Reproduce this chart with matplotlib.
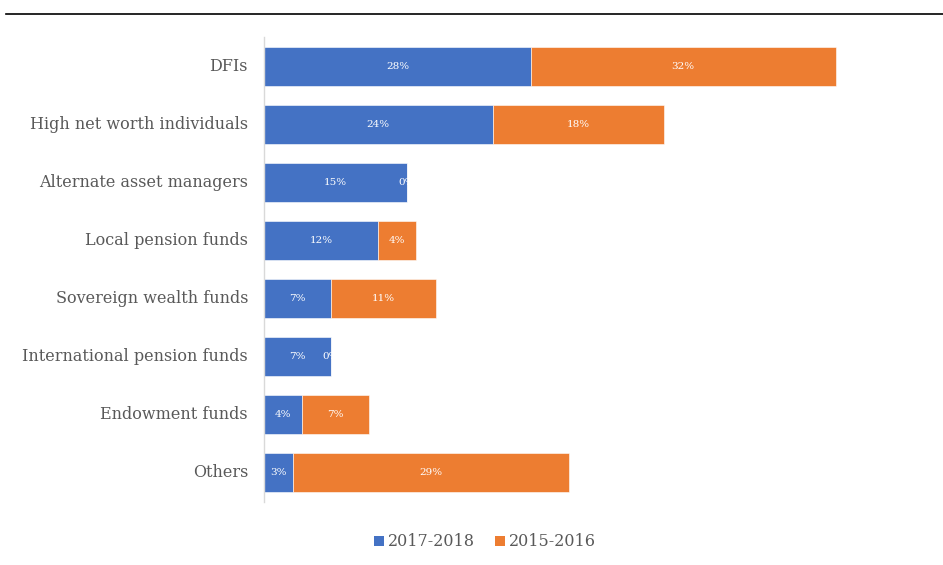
import matplotlib
matplotlib.use("Agg")
import matplotlib.pyplot as plt
from matplotlib.lines import Line2D
from matplotlib.patches import Patch

categories = [
    "DFIs",
    "High net worth individuals",
    "Alternate asset managers",
    "Local pension funds",
    "Sovereign wealth funds",
    "International pension funds",
    "Endowment funds",
    "Others",
]
values_2017_2018 = [28, 24, 15, 12, 7, 7, 4, 3]
values_2015_2016 = [32, 18, 0, 4, 11, 0, 7, 29]
series_names = ["2017-2018", "2015-2016"]

BLUE = "#4472C4"
ORANGE = "#ED7D31"
GREY_TEXT = "#595959"
FONT = ["DejaVu Serif"]

W, H = 943, 565
fig = plt.figure(figsize=(W / 100, H / 100), dpi=100)
fig.patch.set_facecolor("white")

# plot area in pixel units
left_px, right_px, top_px, bottom_px = 264, 931, 37, 502
ax = fig.add_axes([left_px / W, 1 - bottom_px / H,
                   (right_px - left_px) / W, (bottom_px - top_px) / H])

y = list(range(len(categories)))
b1 = ax.barh(y, values_2017_2018, height=0.67, color=BLUE,
             edgecolor="white", linewidth=0.4)
b2 = ax.barh(y, values_2015_2016, left=values_2017_2018, height=0.67,
             color=ORANGE, edgecolor="white", linewidth=0.4)

ax.set_xlim(0, 70)
ax.set_ylim(len(categories) - 0.5, -0.5)

# value labels centred inside each segment
for i, (a, b) in enumerate(zip(values_2017_2018, values_2015_2016)):
    ax.text(a / 2, i, f"{a}%", ha="center", va="center",
            color="white", fontsize=7.5, family=FONT)
    ax.text(a + b / 2, i, f"{b}%", ha="center", va="center",
            color="white", fontsize=7.5, family=FONT)

ax.set_yticks(y)
ax.set_yticklabels(categories, family=FONT, fontsize=11.5, color=GREY_TEXT,
                   va="center")
ax.tick_params(axis="y", length=0, pad=11.5)
ax.set_xticks([])
for side in ["top", "right", "bottom"]:
    ax.spines[side].set_visible(False)
ax.spines["left"].set_color("#d9d9d9")
ax.spines["left"].set_linewidth(1.0)

# horizontal rule across the top
fig.add_artist(Line2D([6 / W, 1.0], [1 - 14 / H, 1 - 14 / H],
                      color="black", linewidth=1.2,
                      transform=fig.transFigure))

handles = [Patch(facecolor=BLUE), Patch(facecolor=ORANGE)]
leg = fig.legend(handles, series_names, loc="center",
                 bbox_to_anchor=(485 / W, 1 - 542 / H), ncol=2,
                 frameon=False, prop={"family": FONT, "size": 11.5},
                 handlelength=0.6, handleheight=0.6, handletextpad=0.25,
                 columnspacing=1.3)
for t in leg.get_texts():
    t.set_color(GREY_TEXT)

fig.savefig("out.png", dpi=100, facecolor="white")
